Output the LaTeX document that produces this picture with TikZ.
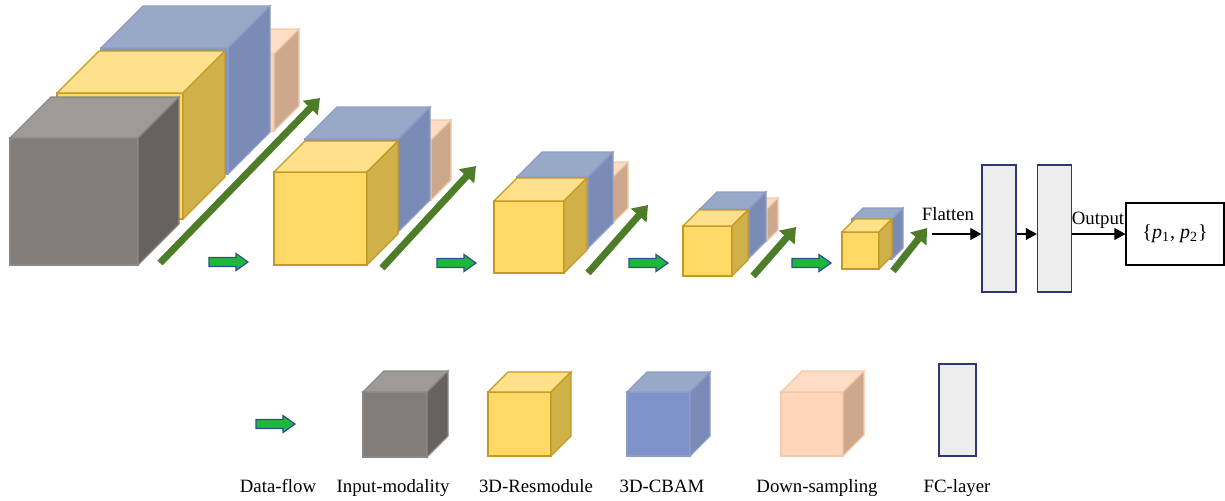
\documentclass[tikz,border=0pt]{standalone}
\usepackage{fontspec}
\setmainfont{Liberation Serif}
\usetikzlibrary{arrows.meta}

% cube palettes: front / top / side / outline
\definecolor{inpfront}{HTML}{827D7A}
\definecolor{inptop}{HTML}{9E9A96}
\definecolor{inpside}{HTML}{67615F}
\definecolor{inpline}{HTML}{8C8784}
\definecolor{resfront}{HTML}{FFD966}
\definecolor{restop}{HTML}{FEE18A}
\definecolor{resside}{HTML}{D0B048}
\definecolor{resline}{HTML}{C49A22}
\definecolor{cbfront}{HTML}{7F93CA}
\definecolor{cbtop}{HTML}{98A8C7}
\definecolor{cbside}{HTML}{7A8BB5}
\definecolor{cbline}{HTML}{8C9CC6}
\definecolor{dsfront}{HTML}{FFD5BA}
\definecolor{dstop}{HTML}{FFDCC4}
\definecolor{dsside}{HTML}{CDA88C}
\definecolor{dsline}{HTML}{F2C9AB}
\definecolor{stepgreen}{HTML}{4E7D2A}
\definecolor{flowfill}{HTML}{1DB83A}
\definecolor{flowline}{HTML}{2E4E8E}
\definecolor{fcfill}{HTML}{EDEDED}
\definecolor{fcline}{HTML}{2E3770}

% #1,#2 front top-left corner, #3 width, #4 height, #5 depth, #6 palette
\newcommand\boxcube[6]{%
  \filldraw[draw=#6line, fill=#6front, cubeline] (#1,#2) rectangle ++(#3,#4);
  \filldraw[draw=#6line, fill=#6top, cubeline] (#1,#2) -- ++(#5,-#5) -- ++(#3,0) -- ++(-#5,#5) -- cycle;
  \filldraw[draw=#6line, fill=#6side, cubeline] (#1+#3,#2) -- ++(#5,-#5) -- ++(0,#4) -- ++(-#5,#5) -- cycle;
}
% block arrow, #1,#2 = middle of its left end
\newcommand\flowarrow[2]{%
  \filldraw[flowstyle] (#1,#2-4.5) -- ++(27,0) -- ++(0,-4) -- ++(12,8.5)
    -- ++(-12,8.5) -- ++(0,-4) -- ++(-27,0) -- cycle;
}

\tikzset{
  cubeline/.style={line width=0.6pt, line join=miter},
  flowstyle/.style={fill=flowfill, draw=flowline, line width=0.6pt},
  stagearrow/.style={draw=stepgreen, line width=3.5pt,
    -{Triangle[length=7pt 0 0,width=10pt 0 0]}},
  fcbox/.style={draw=fcline, fill=fcfill, line width=0.7pt,
    minimum width=17pt, minimum height=63.5pt, inner sep=0pt},
  outbox/.style={draw=black, line width=0.6pt, minimum width=49pt,
    minimum height=31pt, inner sep=0pt, font=\fontsize{10}{12}\selectfont},
  link/.style={draw=black, line width=0.6pt, -{Triangle[length=5.5pt,width=6pt]}},
  lbl/.style={font=\fontsize{9.4}{11}\selectfont, inner sep=0pt},
}

\begin{document}
\begin{tikzpicture}[x=0.5pt, y=-0.5pt]
\useasboundingbox (0,0) rectangle (1225,500);

% stage 1
\boxcube{197}{54}{77}{77}{25}{ds}
\boxcube{101}{48}{127}{126}{42}{cb}
\boxcube{57}{93}{126}{126}{42}{res}
\boxcube{10}{138}{128}{127}{41}{inp}
\draw[stagearrow] (160,263) -- (320,98);
\flowarrow{209}{262}

% stage 2
\boxcube{371}{140}{60}{60}{20}{ds}
\boxcube{305}{139}{93}{93}{32}{cb}
\boxcube{274}{172}{93}{93}{31}{res}
\draw[stagearrow] (382,268) -- (476,166);
\flowarrow{437}{263}

% stage 3
\boxcube{567}{177}{46}{46}{15}{ds}
\boxcube{517}{177}{71}{71}{25}{cb}
\boxcube{494}{201}{70}{72}{23}{res}
\draw[stagearrow] (588,273) -- (648,205);
\flowarrow{629}{263}

% stage 4
\boxcube{735}{209}{32}{32}{11}{ds}
\boxcube{700}{209}{49}{49}{17}{cb}
\boxcube{683}{226}{49}{50}{16}{res}
\draw[stagearrow] (753,276) -- (796,227);
\flowarrow{792}{263}

% stage 5
\boxcube{852}{219}{40}{40}{11}{cb}
\boxcube{842}{232}{37}{37}{13}{res}
\draw[stagearrow] (893,271) -- (927,228);

% fully connected head
\coordinate (flat) at (932,234);
\node[fcbox] (fc1) at (999,228.5) {};
\node[fcbox] (fc2) at (1054.5,228.5) {};
\node[outbox] (out) at (1175,234) {\{\textit{p}\textsubscript{1}, \textit{p}\textsubscript{2}\}};
\draw[link] (flat) -- (flat -| fc1.west);
\draw[link] (fc1.east |- flat) -- (fc2.west |- flat);
\draw[link] (fc2.east |- flat) -- (out.west);
\node[lbl, anchor=base] (flatlbl) at (948,220) {Flatten};
\node[lbl, anchor=base] (outlbl) at (1098,224) {Output};

% legend
\flowarrow{256}{424}
\boxcube{363}{392}{64}{65}{21}{inp}
\boxcube{488}{392}{63}{64}{20}{res}
\boxcube{627}{392}{63}{64}{20}{cb}
\boxcube{781}{392}{62}{64}{21}{ds}
\node[fcbox, minimum width=18.5pt, minimum height=46pt] (fcleg) at (957.5,410) {};

\node[lbl, anchor=base] (l1) at (278,492) {Data-flow};
\node[lbl, anchor=base] (l2) at (393,492) {Input-modality};
\node[lbl, anchor=base] (l3) at (536,492) {3D-Resmodule};
\node[lbl, anchor=base] (l4) at (662,492) {3D-CBAM};
\node[lbl, anchor=base] (l5) at (817,492) {Down-sampling};
\node[lbl, anchor=base] (l6) at (957,492) {FC-layer};
\end{tikzpicture}
\end{document}
